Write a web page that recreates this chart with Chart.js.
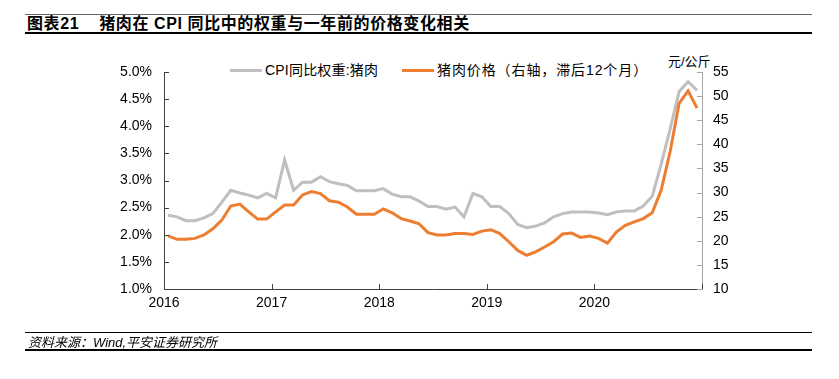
<!DOCTYPE html>
<html>
<head>
<meta charset="utf-8">
<script src="https://cdn.jsdelivr.net/npm/chart.js@4.4.1/dist/chart.umd.min.js"></script>
<style>
  html, body { margin: 0; padding: 0; background: #fff; }
  body { width: 839px; height: 379px; position: relative; overflow: hidden;
         font-family: "Liberation Sans", Arial, "Noto Sans CJK SC", sans-serif; color: #000; }
  #c { position: absolute; left: 0; top: 0; }
  .abs { position: absolute; white-space: nowrap; }
  .hline { position: absolute; background: #000; }
  #title { left: 27px; top: 15px; font-size: 16px; line-height: 18px; font-weight: bold; letter-spacing: 0.6px; }
  #title .num { margin-right: 20px; }
  #source { left: 28px; top: 335px; font-size: 13px; line-height: 16px; font-style: italic; }
  #unit { left: 668px; top: 54px; font-size: 13px; line-height: 16px; }
  .leg { position: absolute; top: 62px; font-size: 14px; line-height: 16px; letter-spacing: 0.2px; }
  #leg2 { letter-spacing: 0.9px; }
  .leg .sw { display: inline-block; width: 32px; height: 3px; vertical-align: middle; margin-right: 3px; position: relative; top: -1px; }
</style>
</head>
<body>
<div class="hline" style="left:25px; top:14px; width:787px; height:1px; background:#666;"></div>
<div id="title" class="abs"><span class="num">图表21</span>猪肉在 CPI 同比中的权重与一年前的价格变化相关</div>
<div class="hline" style="left:25px; top:32px; width:787px; height:2px;"></div>

<div id="leg1" class="leg" style="left:230px;"></div>
<div id="leg2" class="leg" style="left:402px;"></div>
<div id="unit" class="abs">元/公斤</div>

<canvas id="c" width="839" height="379"></canvas>

<div class="hline" style="left:25px; top:332px; width:787px; height:1px;"></div>
<div id="source" class="abs">资料来源：Wind,平安证券研究所</div>
<div class="hline" style="left:25px; top:349px; width:787px; height:2px;"></div>

<script>
// ---- Data (monthly, Jan 2016 – Dec 2020) ----
const yearLabels = ['2016', '2017', '2018', '2019', '2020'];

const seriesNames = ['CPI同比权重:猪肉', '猪肉价格（右轴，滞后12个月）'];

// CPI weight of pork (%), left axis
const cpiPorkWeight = [
  2.36, 2.33, 2.26, 2.26, 2.31, 2.39, 2.60, 2.82, 2.77, 2.73, 2.68, 2.76,
  2.68, 3.38, 2.82, 2.97, 2.97, 3.07, 2.98, 2.94, 2.91, 2.81, 2.81, 2.81,
  2.85, 2.75, 2.70, 2.70, 2.62, 2.52, 2.52, 2.47, 2.51, 2.33, 2.76, 2.70,
  2.52, 2.52, 2.39, 2.19, 2.13, 2.16, 2.22, 2.33, 2.39, 2.42, 2.42, 2.42,
  2.40, 2.37, 2.42, 2.44, 2.44, 2.53, 2.71, 3.30, 3.95, 4.64, 4.82, 4.66
];

// Pork price (yuan/kg), right axis, lagged 12 months
const porkPriceLag12 = [
  21.0, 20.3, 20.3, 20.5, 21.2, 22.5, 24.3, 27.2, 27.6, 26.0, 24.5, 24.5,
  26.0, 27.4, 27.4, 29.5, 30.2, 29.8, 28.3, 28.0, 27.0, 25.5, 25.5, 25.5,
  26.6, 25.8, 24.6, 24.1, 23.5, 21.7, 21.2, 21.2, 21.5, 21.5, 21.3, 22.0,
  22.3, 21.5, 19.8, 18.0, 17.0, 17.7, 18.7, 19.8, 21.4, 21.6, 20.7, 21.0,
  20.5, 19.5, 21.8, 23.2, 23.9, 24.6, 25.8, 30.5, 38.5, 48.5, 51.1, 47.5
];

const leftTicks = { min: 1.0, max: 5.0, step: 0.5 };
const rightTicks = { min: 10, max: 55, step: 5 };

// ---- Layout constants ----
const PLOT = { left: 164, right: 702, top: 72, bottom: 289 };
const W = 839, H = 379;
const MONTH_OFFSET = 0.45;
const GREY = '#BFBFBF', ORANGE = '#ED7D31';
const FONT = { family: '"Liberation Sans", Arial, "Noto Sans CJK SC", sans-serif', size: 14 };

function toPoints(arr) { return arr.map((v, i) => ({ x: i + MONTH_OFFSET, y: v })); }

// legend (HTML)
document.getElementById('leg1').innerHTML = '<span class="sw" style="background:' + GREY + '"></span>' + seriesNames[0];
document.getElementById('leg2').innerHTML = '<span class="sw" style="background:' + ORANGE + '"></span>' + seriesNames[1];

// inward tick marks
const innerTicks = {
  id: 'innerTicks',
  afterDraw(chart) {
    const ctx = chart.ctx;
    const len = 5;
    ctx.save();
    ctx.lineWidth = 1;
    const y = chart.scales.y, y1 = chart.scales.y1, x = chart.scales.x;
    ctx.strokeStyle = '#404040';
    ctx.beginPath();
    y.ticks.forEach(t => { const p = Math.round(y.getPixelForValue(t.value)) + 0.5; ctx.moveTo(PLOT.left, p); ctx.lineTo(PLOT.left + len, p); });
    x.ticks.forEach(t => { const p = Math.round(x.getPixelForValue(t.value)) + 0.5; ctx.moveTo(p, PLOT.bottom); ctx.lineTo(p, PLOT.bottom - len); });
    ctx.stroke();
    ctx.strokeStyle = '#A6A6A6';
    ctx.beginPath();
    y1.ticks.forEach(t => { const p = Math.round(y1.getPixelForValue(t.value)) + 0.5; ctx.moveTo(PLOT.right, p); ctx.lineTo(PLOT.right - len, p); });
    ctx.stroke();
    ctx.restore();
  }
};

new Chart(document.getElementById('c'), {
  type: 'line',
  data: {
    datasets: [
      { label: seriesNames[0], data: toPoints(cpiPorkWeight), yAxisID: 'y', borderColor: GREY, backgroundColor: GREY,
        borderWidth: 3, pointRadius: 0, tension: 0, order: 2 },
      { label: seriesNames[1], data: toPoints(porkPriceLag12), yAxisID: 'y1', borderColor: ORANGE, backgroundColor: ORANGE,
        borderWidth: 3, pointRadius: 0, tension: 0, order: 1 }
    ]
  },
  options: {
    responsive: false,
    animation: false,
    devicePixelRatio: 1,
    layout: { padding: { left: 0, right: 0, top: PLOT.top, bottom: 0 } },
    plugins: { legend: { display: false }, tooltip: { enabled: false }, title: { display: false } },
    scales: {
      x: {
        type: 'linear', min: 0, max: yearLabels.length * 12,
        ticks: {
          stepSize: 12, autoSkip: false, maxRotation: 0, padding: 6, color: '#000', font: FONT,
          callback: (v) => yearLabels[v / 12] !== undefined ? yearLabels[v / 12] : ''
        },
        grid: { drawOnChartArea: false, drawTicks: false },
        border: { color: '#404040', width: 1 },
        afterFit: (s) => { s.height = H - PLOT.bottom; }
      },
      y: {
        position: 'left', min: leftTicks.min, max: leftTicks.max,
        ticks: { stepSize: leftTicks.step, padding: 12, color: '#000', font: FONT, callback: (v) => v.toFixed(1) + '%' },
        grid: { drawOnChartArea: false, drawTicks: false },
        border: { color: '#404040', width: 1 },
        afterFit: (s) => { s.width = PLOT.left; }
      },
      y1: {
        position: 'right', min: rightTicks.min, max: rightTicks.max,
        ticks: { stepSize: rightTicks.step, padding: 11, color: '#000', font: FONT },
        grid: { drawOnChartArea: false, drawTicks: false },
        border: { color: '#A6A6A6', width: 1 },
        afterFit: (s) => { s.width = W - PLOT.right; }
      }
    }
  },
  plugins: [innerTicks]
});
</script>
</body>
</html>
